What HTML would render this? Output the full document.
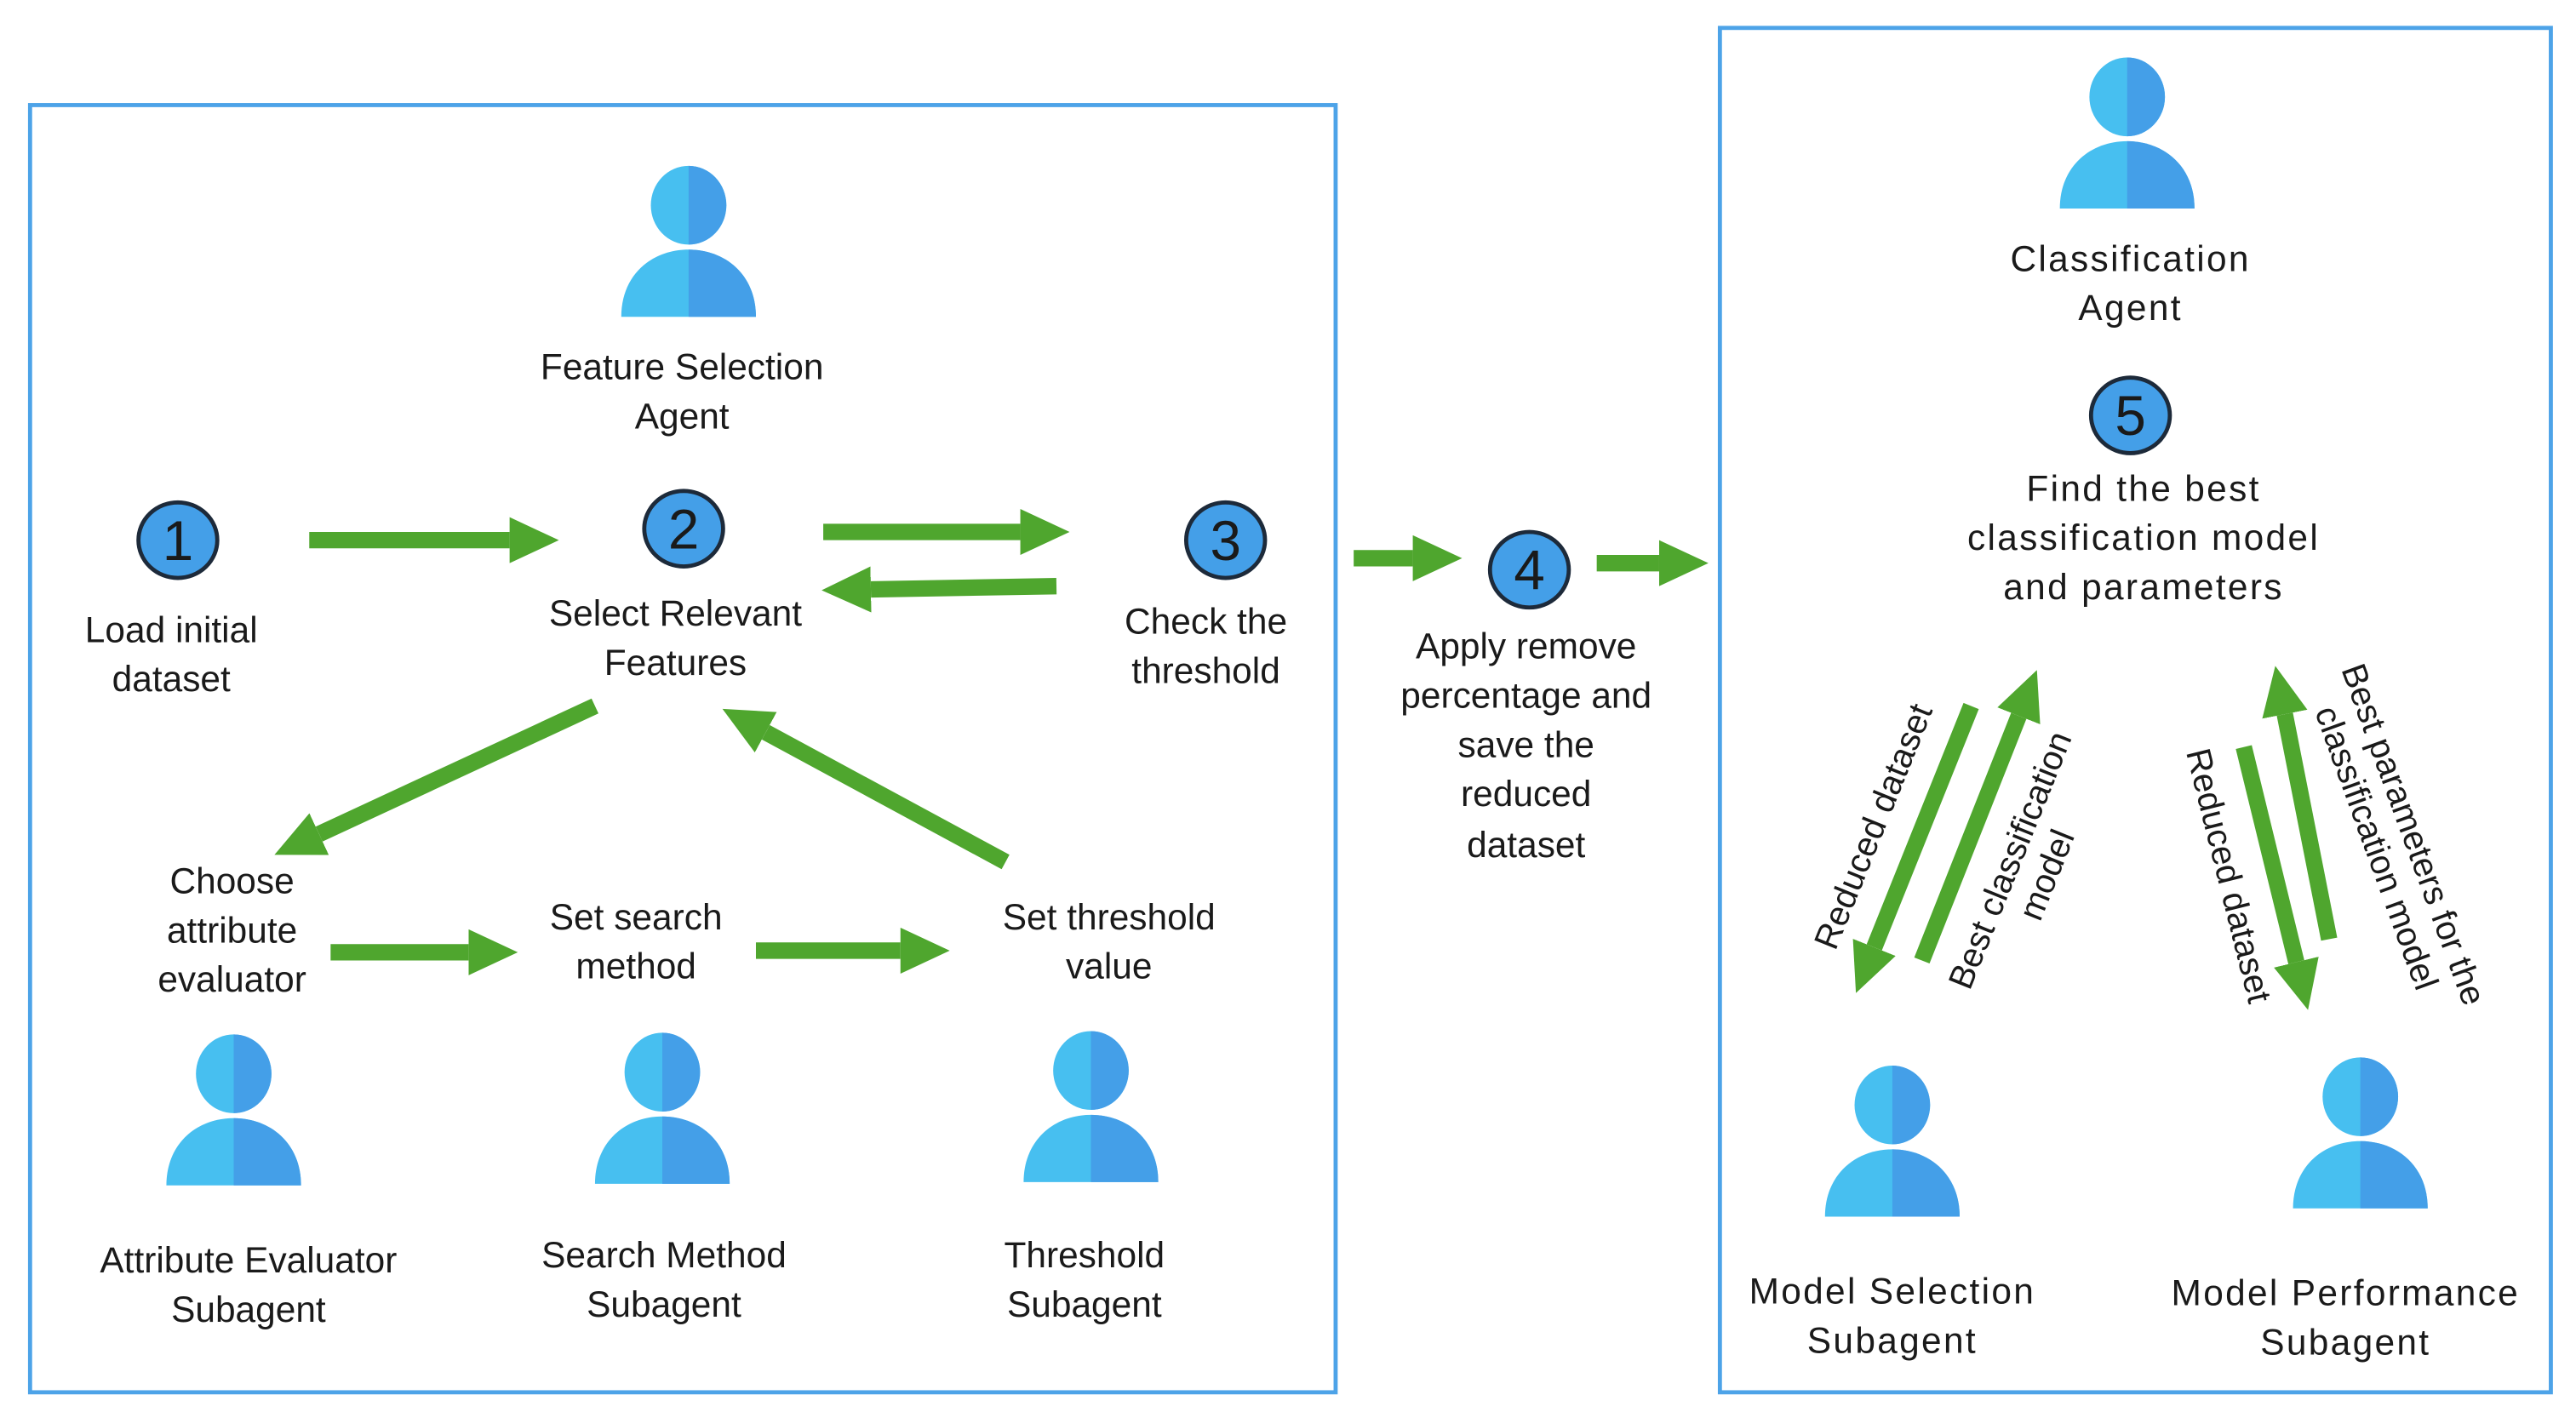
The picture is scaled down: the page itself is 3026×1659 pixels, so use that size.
<!DOCTYPE html>
<html><head><meta charset="utf-8"><style>
html,body{margin:0;padding:0;background:#fff}
svg{display:block}
text{font-family:"Liberation Sans",sans-serif;font-size:22px;fill:#1a1a1a;text-anchor:middle}
.w{letter-spacing:1.2px}
text.n{font-size:34px}
text.r{font-size:21px}
</style></head><body>
<svg width="3026" height="1659" viewBox="0 0 1568 860" xmlns="http://www.w3.org/2000/svg">
<defs>
<clipPath id="rh"><rect x="0" y="-40" width="60" height="120"/></clipPath>
<g id="p">
 <ellipse cx="0" cy="0" rx="23" ry="24" fill="#47bff0"/>
 <path d="M-41,68 C-41,42 -22,27 0,27 C22,27 41,42 41,68 Z" fill="#47bff0"/>
 <g clip-path="url(#rh)">
  <ellipse cx="0" cy="0" rx="23" ry="24" fill="#449fe8"/>
  <path d="M-41,68 C-41,42 -22,27 0,27 C22,27 41,42 41,68 Z" fill="#449fe8"/>
 </g>
</g>
<marker id="ah" markerUnits="strokeWidth" markerWidth="3" markerHeight="2.8" refX="0" refY="1.4" orient="auto">
 <path d="M0,0 L3,1.4 L0,2.8 Z" fill="#4fa62e"/>
</marker>
</defs>

<rect x="18" y="64" width="795" height="784" fill="none" stroke="#4da3e8" stroke-width="2.5"/>
<rect x="1047" y="17" width="506" height="831" fill="none" stroke="#4da3e8" stroke-width="2.5"/>

<use href="#p" transform="translate(419,125)"/>
<use href="#p" transform="translate(1295,59)"/>
<use href="#p" transform="translate(142,654)"/>
<use href="#p" transform="translate(403,653)"/>
<use href="#p" transform="translate(664,652)"/>
<use href="#p" transform="translate(1152,673)"/>
<use href="#p" transform="translate(1437,668)"/>

<g stroke="#1d2a3a" stroke-width="2.5" fill="#449fe8">
<ellipse cx="108" cy="329" rx="24" ry="23"/>
<ellipse cx="416" cy="322" rx="24" ry="23"/>
<ellipse cx="746" cy="329" rx="24" ry="23"/>
<ellipse cx="931" cy="347" rx="24" ry="23"/>
<ellipse cx="1297" cy="253" rx="24" ry="23"/>
</g>
<text class="n" x="108" y="341">1</text>
<text class="n" x="416" y="334">2</text>
<text class="n" x="746" y="341">3</text>
<text class="n" x="931" y="359">4</text>
<text class="n" x="1297" y="265">5</text>

<g stroke="#4fa62e" stroke-width="10" marker-end="url(#ah)" fill="none">
<line x1="188" y1="329" x2="310" y2="329"/>
<line x1="501" y1="324" x2="621" y2="324"/>
<line x1="643" y1="357" x2="530" y2="359"/>
<line x1="824" y1="340" x2="860" y2="340"/>
<line x1="972" y1="343" x2="1010" y2="343"/>
<line x1="362" y1="430" x2="194" y2="508"/>
<line x1="612" y1="525" x2="466" y2="446"/>
<line x1="201" y1="580" x2="285" y2="580"/>
<line x1="460" y1="579" x2="548" y2="579"/>
<line x1="1200" y1="430" x2="1141" y2="577"/>
<line x1="1170" y1="585" x2="1229" y2="436"/>
<line x1="1366" y1="455" x2="1398" y2="586"/>
<line x1="1418" y1="572" x2="1391" y2="435"/>
</g>

<text x="415" y="231">Feature Selection</text>
<text x="415" y="261">Agent</text>
<text x="104" y="391">Load initial</text>
<text x="104" y="421">dataset</text>
<text x="411" y="381">Select Relevant</text>
<text x="411" y="411">Features</text>
<text x="734" y="386">Check the</text>
<text x="734" y="416">threshold</text>
<text x="929" y="401">Apply remove</text>
<text x="929" y="431">percentage and</text>
<text x="929" y="461">save the</text>
<text x="929" y="491">reduced</text>
<text x="929" y="522">dataset</text>
<text x="141" y="544">Choose</text>
<text x="141" y="574">attribute</text>
<text x="141" y="604">evaluator</text>
<text x="387" y="566">Set search</text>
<text x="387" y="596">method</text>
<text x="675" y="566">Set threshold</text>
<text x="675" y="596">value</text>
<text x="151" y="775">Attribute Evaluator</text>
<text x="151" y="805">Subagent</text>
<text x="404" y="772">Search Method</text>
<text x="404" y="802">Subagent</text>
<text x="660" y="772">Threshold</text>
<text x="660" y="802">Subagent</text>

<text class="w" x="1297" y="165">Classification</text>
<text class="w" x="1297" y="195">Agent</text>
<text class="w" x="1305" y="305">Find the best</text>
<text class="w" x="1305" y="335">classification model</text>
<text class="w" x="1305" y="365">and parameters</text>
<text class="w" x="1152" y="794">Model Selection</text>
<text class="w" x="1152" y="824">Subagent</text>
<text class="w" x="1428" y="795">Model Performance</text>
<text class="w" x="1428" y="825">Subagent</text>

<text class="r" transform="translate(1147,506) rotate(-68)">Reduced dataset</text>
<g transform="translate(1234,528) rotate(-68)">
 <text class="r" x="0" y="-4">Best classification</text>
 <text class="r" x="0" y="20">model</text>
</g>
<text class="r" transform="translate(1350,535) rotate(76)">Reduced dataset</text>
<g transform="translate(1459,512) rotate(70)">
 <text class="r" x="0" y="-4">Best parameters for the</text>
 <text class="r" x="0" y="20">classification model</text>
</g>
</svg>
</body></html>
